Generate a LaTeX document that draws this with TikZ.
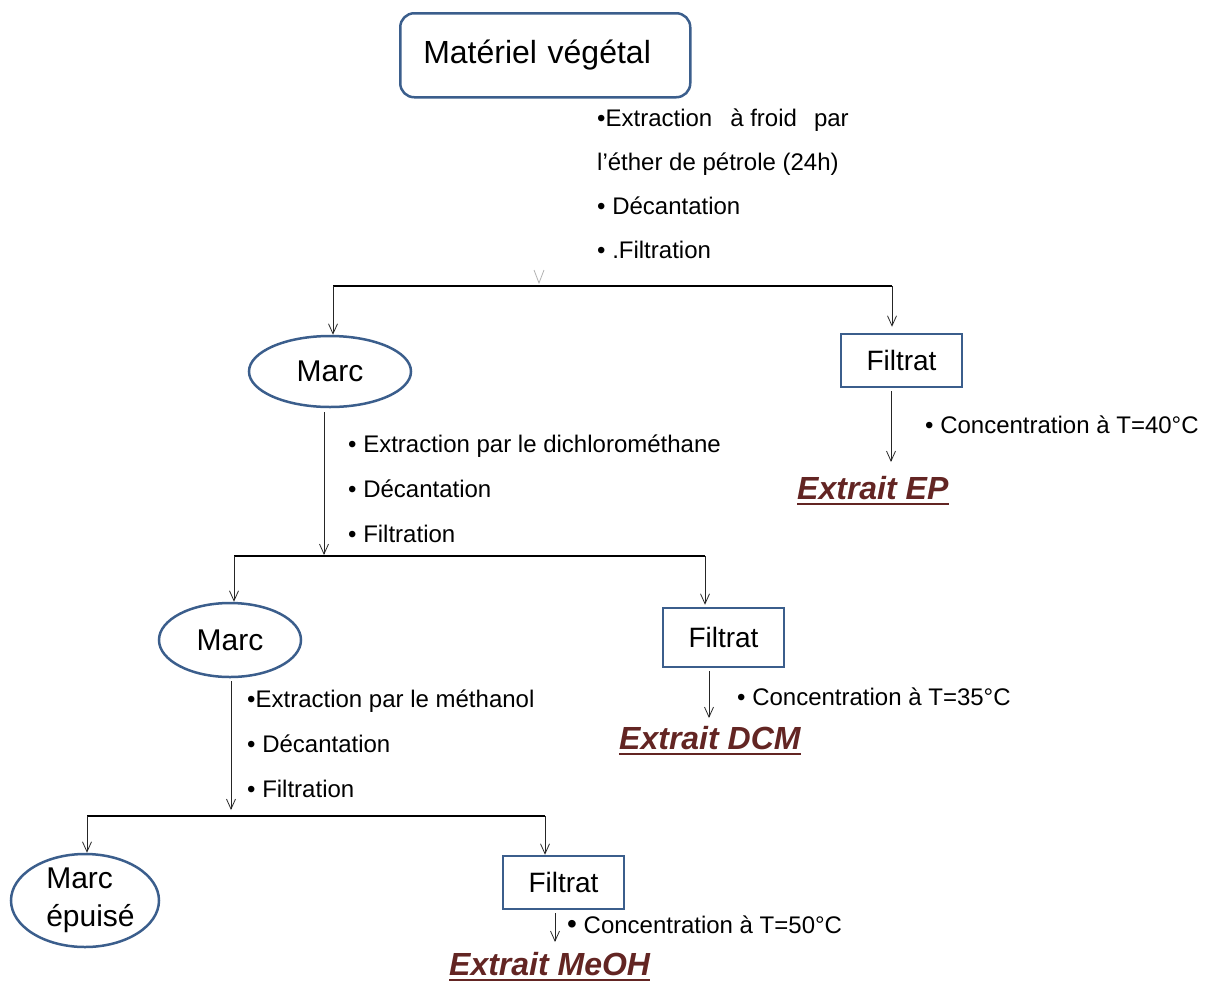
\documentclass[tikz,border=0pt]{standalone}
\usepackage{fontspec}
\setmainfont{Liberation Sans}
\usetikzlibrary{shapes.geometric,arrows.meta}
\definecolor{boxblue}{HTML}{3B5E8C}
\definecolor{darkred}{HTML}{632523}
\tikzset{
  mainbox/.style={draw=boxblue, line width=2.5pt, rounded corners=14pt, minimum height=84pt,
    text width=244pt, inner xsep=23pt, align=left, font=\fontsize{32}{36}\selectfont},
  lbl/.style={anchor=base west, inner sep=0pt, font=\fontsize{24}{28}\selectfont},
  bluebox/.style={draw=boxblue, line width=2.5pt, inner sep=0pt, minimum width=121pt,
    font=\fontsize{28}{32}\selectfont},
  marcnode/.style={ellipse, draw=boxblue, line width=2.5pt, inner sep=0pt,
    font=\fontsize{30}{36}\selectfont},
  arr/.style={-{Straight Barb[length=10pt,width=9pt]}, line width=0.8pt, draw=black!85},
  hline/.style={line width=1.2pt},
  extrait/.style={anchor=base west, inner sep=0pt, text=darkred,
    font=\fontsize{32}{36}\selectfont\bfseries\itshape},
  uline/.style={draw=darkred, line width=2.5pt},
}
\begin{document}
\begin{tikzpicture}[x=1pt,y=-1pt]
\useasboundingbox (0,0) rectangle (1215,983);

% top box
\node[mainbox, anchor=north west] (mat) at (399,12) {Matériel végétal};
\node[lbl] (t1a) at (597,126) {•Extraction\hspace{18pt}à froid\hspace{17pt}par};
\node[lbl] (t1b) at (597,170) {l’éther de pétrole (24h)};
\node[lbl] (t1c) at (597,214) {• Décantation};
\node[lbl] (t1d) at (597,258) {• .Filtration};
\draw[gray!60, line width=0.8pt] (534,270) -- (539,283) -- (544,270);

% level 1
\node[marcnode, minimum width=162pt, minimum height=71pt] (m1) at (330,371.5) {Marc};
\node[bluebox, minimum height=53pt] (f1) at (901.5,360.5) {Filtrat};
\coordinate (j1L) at (333,286);
\coordinate (j1R) at (892,286);
\draw[hline] (j1L) -- (j1R);
\draw[arr] (j1L) -- (j1L |- m1.north);
\draw[arr, shorten >=6pt] (j1R) -- (j1R |- f1.north);

\coordinate (e1) at (891,462);
\draw[arr, shorten <=3pt] (f1.south -| e1) -- (e1);
\node[lbl] (c1) at (925,433) {• Concentration à T=40°C};
\node[extrait] (x1) at (797,499) {Extrait EP};
\draw[uline] ([yshift=-5pt]x1.base west) -- ([yshift=-5pt]x1.base east);

\node[lbl] (t2a) at (348,452) {• Extraction par le dichlorométhane};
\node[lbl] (t2b) at (348,497) {• Décantation};
\node[lbl] (t2c) at (348,542) {• Filtration};
\coordinate (j2) at (324,555);
\draw[arr, shorten <=4pt] (m1.south -| j2) -- (j2);

% level 2
\node[marcnode, minimum width=142pt, minimum height=74pt] (m2) at (230,640) {Marc};
\node[bluebox, minimum height=59pt] (f2) at (723.5,637.5) {Filtrat};
\coordinate (j2L) at (234,556);
\coordinate (j2R) at (705,556);
\draw[hline] (j2L) -- (j2R);
\draw[arr] (j2L) -- (j2L |- m2.north);
\draw[arr, shorten >=2pt] (j2R) -- (j2R |- f2.north);

\coordinate (e2) at (709,718);
\draw[arr, shorten <=3pt] (f2.south -| e2) -- (e2);
\node[lbl] (c2) at (737,705) {• Concentration à T=35°C};
\node[extrait] (x2) at (619,749) {Extrait DCM};
\draw[uline] ([yshift=-5pt]x2.base west) -- ([yshift=-5pt]x2.base east);

\node[lbl] (t3a) at (247,707) {•Extraction par le méthanol};
\node[lbl] (t3b) at (247,752) {• Décantation};
\node[lbl] (t3c) at (247,797) {• Filtration};
\coordinate (j3) at (231,810);
\draw[arr, shorten <=3pt] (m2.south -| j3) -- (j3);

% level 3
\node[marcnode, minimum width=148pt, minimum height=93pt, align=left] (m3) at (85,900.5)
  {\hspace*{11pt}Marc\\[2pt]\hspace*{11pt}épuisé};
\node[bluebox, minimum height=53pt] (f3) at (563.5,882.5) {Filtrat};
\coordinate (j3L) at (87,816);
\coordinate (j3R) at (545,816);
\draw[hline] (j3L) -- (j3R);
\draw[arr] (j3L) -- (j3L |- m3.north);
\draw[arr] (j3R) -- (j3R |- f3.north);

\coordinate (e3) at (555,942);
\draw[arr, shorten <=3pt] (f3.south -| e3) -- (e3);
\node[lbl] (c3) at (567,933) {\fontsize{28}{28}\selectfont•\fontsize{24}{28}\selectfont\ Concentration à T=50°C};
\node[extrait] (x3) at (449,975) {Extrait MeOH};
\draw[uline] ([yshift=-5pt]x3.base west) -- ([yshift=-5pt]x3.base east);
\end{tikzpicture}
\end{document}
